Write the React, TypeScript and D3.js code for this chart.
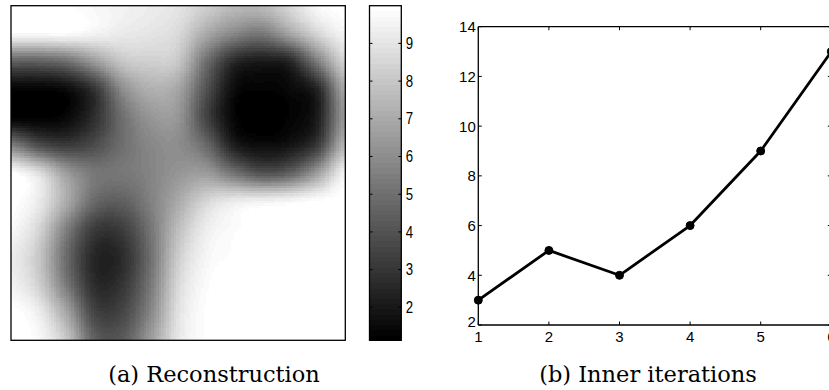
import React from 'react';
import * as d3 from 'd3';

// Reconstruction field, read on a 13x13 grid (rows top→bottom, cols left→right)
const fieldRows: number[][] = [
  [10.0, 10.0, 9.9, 9.7, 9.5, 9.3, 9.0, 8.3, 7.6, 7.6, 8.6, 9.7, 10.0],
  [9.8, 9.8, 9.8, 9.5, 9.2, 9.0, 8.6, 7.0, 5.8, 5.3, 6.8, 8.5, 9.6],
  [4.5, 4.5, 5.0, 6.5, 8.0, 8.3, 8.0, 5.0, 2.6, 2.1, 2.5, 5.5, 8.5],
  [1.3, 1.3, 1.6, 3.0, 6.0, 7.2, 6.8, 4.0, 1.6, 1.3, 1.5, 2.5, 7.0],
  [1.13, 1.2, 1.5, 2.8, 5.0, 6.3, 6.3, 3.5, 1.4, 1.13, 1.3, 2.2, 6.5],
  [5.5, 3.8, 3.2, 3.8, 5.0, 5.8, 6.0, 4.8, 2.2, 1.6, 1.9, 3.2, 7.5],
  [9.9, 8.8, 6.5, 5.3, 5.3, 5.7, 6.3, 6.5, 5.1, 4.0, 4.5, 6.6, 9.6],
  [10.0, 9.2, 7.0, 4.8, 4.5, 5.6, 7.0, 8.5, 9.2, 9.4, 9.6, 9.9, 10.0],
  [9.7, 8.5, 5.5, 3.2, 3.3, 5.2, 7.7, 9.3, 9.8, 10.0, 10.0, 10.0, 10.0],
  [9.3, 8.0, 4.8, 2.5, 2.7, 5.0, 8.2, 9.6, 9.9, 10.0, 10.0, 10.0, 10.0],
  [9.5, 8.3, 5.3, 2.7, 3.0, 5.3, 8.6, 9.8, 10.0, 10.0, 10.0, 10.0, 10.0],
  [10.0, 9.3, 6.8, 3.5, 3.6, 5.8, 8.9, 9.9, 10.0, 10.0, 10.0, 10.0, 10.0],
  [10.0, 9.7, 8.0, 4.5, 4.3, 6.5, 9.1, 9.9, 10.0, 10.0, 10.0, 10.0, 10.0],
];
const colorDomain = [1.125, 10];
const colorbarTicks = [2, 3, 4, 5, 6, 7, 8, 9];

const iterX = [1, 2, 3, 4, 5, 6];
const iterY = [3, 5, 4, 6, 9, 13];
const iterYTicks = [2, 4, 6, 8, 10, 12, 14];
const iterXTicks = [1, 2, 3, 4, 5, 6];
const captions = ['(a) Reconstruction', '(b) Inner iterations'];

const W = 829;
const H = 390;
const LEVELS = 64;

function cr(p0: number, p1: number, p2: number, p3: number, t: number) {
  return 0.5 * (2 * p1 + (-p0 + p2) * t + (2 * p0 - 5 * p1 + 4 * p2 - p3) * t * t + (-p0 + 3 * p1 - 3 * p2 + p3) * t * t * t);
}
function sample(g: number[][], u: number, v: number) {
  const n = g.length, m = g[0].length;
  const i = Math.max(0, Math.min(Math.floor(u), m - 2));
  const j = Math.max(0, Math.min(Math.floor(v), n - 2));
  const tu = u - i, tv = v - j;
  const at = (r: number, c: number) => g[Math.max(0, Math.min(n - 1, r))][Math.max(0, Math.min(m - 1, c))];
  const rows = [-1, 0, 1, 2].map((dr) => cr(at(j + dr, i - 1), at(j + dr, i), at(j + dr, i + 1), at(j + dr, i + 2), tu));
  return cr(rows[0], rows[1], rows[2], rows[3], tv);
}

export default function App() {
  // heatmap geometry
  const hx0 = 11, hx1 = 345.3, hy0 = 5.7, hy1 = 340.3;
  const gxs = d3.scaleLinear().domain([0, fieldRows[0].length - 1]).range([hx0, hx1]);
  const gys = d3.scaleLinear().domain([0, fieldRows.length - 1]).range([hy0, hy1]);
  const lvl = d3.scaleQuantize<number>().domain(colorDomain as [number, number]).range(d3.range(LEVELS));
  const gray = d3.interpolateRgb('#000', '#fff');
  const grayOf = (v: number) => {
    const c = Math.max(colorDomain[0], Math.min(colorDomain[1] - 1e-9, v));
    return gray(lvl(c) / (LEVELS - 1));
  };
  const step = 2.5;
  const cells: { x: number; y: number; f: string }[] = [];
  for (let py = hy0; py < hy1; py += step) {
    for (let px = hx0; px < hx1; px += step) {
      const u = gxs.invert(px + step / 2);
      const v = gys.invert(py + step / 2);
      cells.push({ x: px, y: py, f: grayOf(sample(fieldRows, u, v)) });
    }
  }

  // colorbar
  const cbx0 = 369.5, cbx1 = 401.3;
  const cbY = d3.scaleLinear().domain(colorDomain).range([hy1, hy0]);
  const cbLevels = d3.range(LEVELS);
  const cbLevelH = (hy1 - hy0) / LEVELS;

  // line chart
  const lx0 = 478.3, ly0 = 26.7, ly1 = 325;
  const xS = d3.scaleLinear().domain([1, 6]).range([lx0, lx0 + 5 * 70.6]);
  const yS = d3.scaleLinear().domain([2, 14]).range([ly1, ly0]);
  const lineGen = d3.line<number>().x((_, i) => xS(iterX[i])).y((d) => yS(d));
  const lx1 = xS(6);

  const ff = 'Liberation Sans, Arial, Helvetica, sans-serif';

  return (
    <svg width={W} height={H} style={{ position: 'absolute', left: 0, top: 0, background: '#fff' }}>
      <rect x={0} y={0} width={W} height={H} fill="#fff" />
      <defs>
        <clipPath id="heatClip">
          <rect x={hx0} y={hy0} width={hx1 - hx0} height={hy1 - hy0} />
        </clipPath>
      </defs>
      <g clipPath="url(#heatClip)" shapeRendering="crispEdges">
        {cells.map((c, k) => (
          <rect key={k} x={c.x} y={c.y} width={step + 0.4} height={step + 0.4} fill={c.f} />
        ))}
      </g>
      <rect x={hx0} y={hy0} width={hx1 - hx0} height={hy1 - hy0} fill="none" stroke="#000" strokeWidth={1.3} />

      {/* colorbar */}
      <g shapeRendering="crispEdges">
        {cbLevels.map((k) => (
          <rect key={k} x={cbx0} y={hy1 - (k + 1) * cbLevelH} width={cbx1 - cbx0} height={cbLevelH + 0.5}
            fill={gray(k / (LEVELS - 1))} />
        ))}
      </g>
      <rect x={cbx0} y={hy0} width={cbx1 - cbx0} height={hy1 - hy0} fill="none" stroke="#000" strokeWidth={1.3} />
      {colorbarTicks.map((t) => (
        <g key={t}>
          <line x1={cbx0} x2={cbx0 + 3} y1={cbY(t)} y2={cbY(t)} stroke="#000" strokeWidth={1} />
          <line x1={cbx1} x2={cbx1 - 3} y1={cbY(t)} y2={cbY(t)} stroke="#000" strokeWidth={1} />
          <text x={cbx1 + 4.5} y={cbY(t)} dy="0.36em" fontFamily={ff} fontSize={15}
            transform={`translate(${cbx1 + 4.5},${cbY(t)}) scale(0.88,1.05) translate(${-(cbx1 + 4.5)},${-cbY(t)})`}>{t}</text>
        </g>
      ))}

      {/* line chart axes */}
      <line x1={lx0} x2={lx1 + 2} y1={ly0} y2={ly0} stroke="#000" strokeWidth={1.3} />
      <line x1={lx0} x2={lx1 + 2} y1={ly1} y2={ly1} stroke="#000" strokeWidth={1.3} />
      <line x1={lx0} x2={lx0} y1={ly0} y2={ly1} stroke="#000" strokeWidth={1.3} />
      <line x1={lx1} x2={lx1} y1={ly0} y2={ly1} stroke="#000" strokeWidth={1.3} />
      {iterXTicks.map((t) => (
        <g key={t}>
          <line x1={xS(t)} x2={xS(t)} y1={ly1} y2={ly1 - 3.5} stroke="#000" strokeWidth={1} />
          <line x1={xS(t)} x2={xS(t)} y1={ly0} y2={ly0 + 3.5} stroke="#000" strokeWidth={1} />
          <text x={xS(t)} y={ly1 + 16.5} textAnchor="middle" fontFamily={ff} fontSize={15}>{t}</text>
        </g>
      ))}
      {iterYTicks.map((t) => (
        <g key={t}>
          <line x1={lx0} x2={lx0 + 3.5} y1={yS(t)} y2={yS(t)} stroke="#000" strokeWidth={1} />
          <line x1={lx1} x2={lx1 - 3.5} y1={yS(t)} y2={yS(t)} stroke="#000" strokeWidth={1} />
          <text x={lx0 - 2.5} y={yS(t)} dy={t === 2 ? '0.15em' : '0.36em'} textAnchor="end" fontFamily={ff} fontSize={15}>{t}</text>
        </g>
      ))}
      <path d={lineGen(iterY) || ''} fill="none" stroke="#000" strokeWidth={2.8} strokeLinejoin="round" />
      {iterY.map((d, i) => (
        <circle key={i} cx={xS(iterX[i])} cy={yS(d)} r={4} fill="#000" stroke="#000" strokeWidth={1} />
      ))}

      {/* captions */}
      <text x={214} y={382} textAnchor="middle" fontFamily="DejaVu Serif, serif" fontSize={22.5}>{captions[0]}</text>
      <text x={648} y={382} textAnchor="middle" fontFamily="DejaVu Serif, serif" fontSize={22.5}>{captions[1]}</text>
    </svg>
  );
}
